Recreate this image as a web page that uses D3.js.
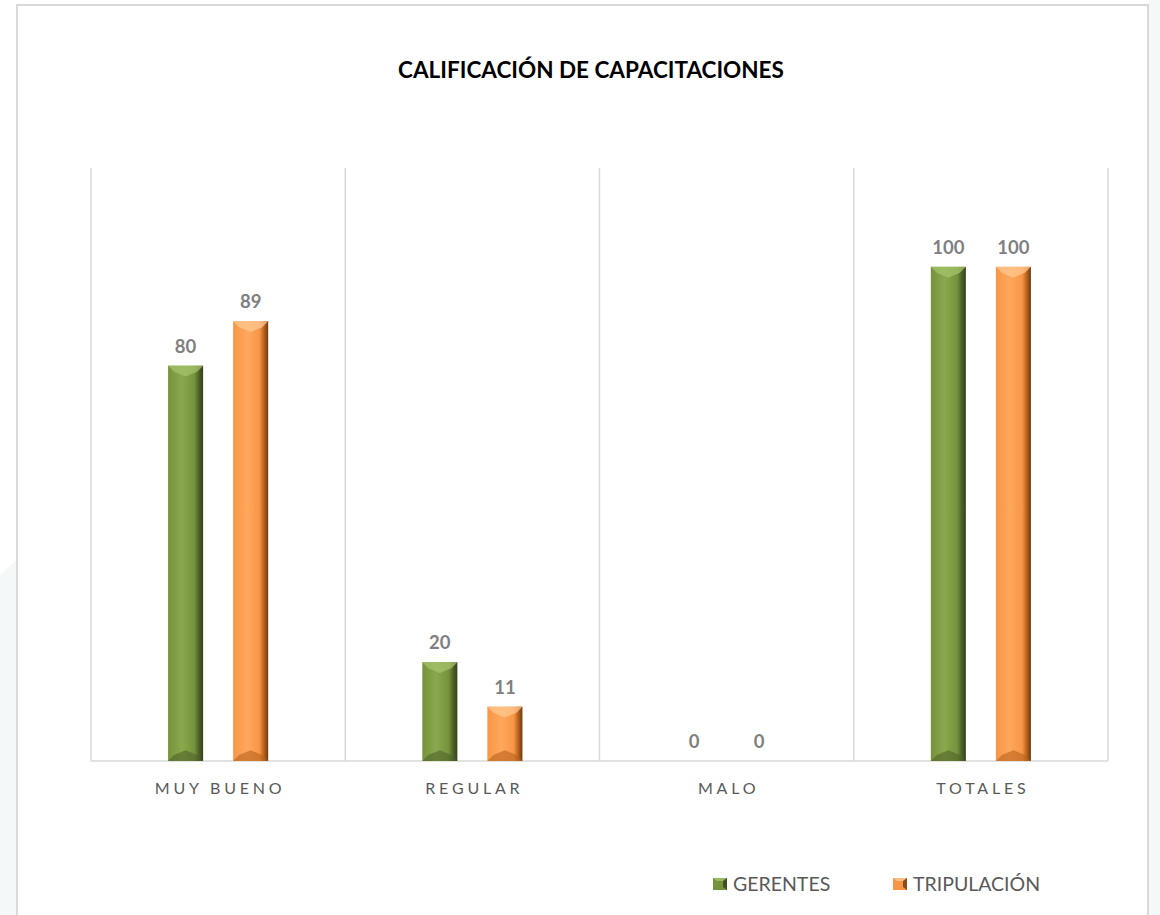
<!DOCTYPE html>
<html>
  <head>
    <meta charset="utf-8">
    <title>Calificación de capacitaciones</title>
    <script src="https://d3js.org/d3.v7.min.js"></script>
    <style>
      body { margin: 0; background: #fff; }
      svg { display: block; font-family: Lato, "Open Sans", sans-serif; }
      .grid line { stroke: #d9d9d9; stroke-width: 1.5; }
      .value { fill: #7f7f7f; font-weight: bold; font-size: 18.5px; text-anchor: middle; }
      .cat { fill: #595959; font-size: 16px; letter-spacing: 3.8px; text-anchor: middle; }
      .legendText { fill: #595959; font-size: 19.5px; }
    </style>
  </head>
  <body>
    <svg id="chart" width="1160" height="915"></svg>
    <script>
      // data
      categories = ["MUY BUENO", "REGULAR", "MALO", "TOTALES"];
      seriesNames = ["GERENTES", "TRIPULACIÓN"];
      gerentes = [80, 20, 0, 100];
      tripulacion = [89, 11, 0, 100];
      yMax = 120;

      colours = {
        "GERENTES": { base: "#76923c", light: "#8aa84c", dark: "#33421a", top: "#a4c36a", bottom: "#4f6228" },
        "TRIPULACIÓN": { base: "#f79646", light: "#ffa75c", dark: "#6e3a10", top: "#ffc890", bottom: "#b8621e" }
      };

      svg = d3.select("#chart");
      margin = { left: 91, right: 1108, top: 168, bottom: 761 };

      // faint page background outside the frame
      svg.append("path")
        .attr("d", "M0,575 L17,560 L17,915 L0,915 Z")
        .style("fill", "#f4f8f8");
      svg.append("rect")
        .attr("x", 1149).attr("y", 0).attr("width", 11).attr("height", 915)
        .style("fill", "#f4f8f8");
      svg.append("rect")
        .attr("x", 17).attr("y", 5).attr("width", 1131).attr("height", 920)
        .style("fill", "#fff").style("stroke", "#d9d9d9").style("stroke-width", 2);

      // title
      svg.append("text")
        .attr("x", 591).attr("y", 78)
        .attr("text-anchor", "middle")
        .style("font-size", "22.5px").style("font-weight", "bold").style("fill", "#000")
        .text("CALIFICACIÓN DE CAPACITACIONES");

      // scales
      x0 = d3.scaleBand().domain(categories).range([margin.left, margin.right]);
      x1 = d3.scaleBand().domain(seriesNames).range([0, x0.bandwidth()])
        .paddingInner(0.4615).paddingOuter(1.1846);
      y = d3.scaleLinear().domain([0, yMax]).range([margin.bottom, margin.top]);

      // gradients
      defs = svg.append("defs");
      seriesNames.forEach(function(s, i) {
        var g = defs.append("linearGradient").attr("id", "grad" + i)
          .attr("x1", "0%").attr("x2", "100%").attr("y1", "0%").attr("y2", "0%");
        g.append("stop").attr("offset", "0%").attr("stop-color", colours[s].base);
        g.append("stop").attr("offset", "40%").attr("stop-color", colours[s].light);
        g.append("stop").attr("offset", "75%").attr("stop-color", colours[s].base);
        g.append("stop").attr("offset", "88%").attr("stop-color", colours[s].bottom);
        g.append("stop").attr("offset", "100%").attr("stop-color", colours[s].dark);
      });

      // vertical category grid + baseline
      grid = svg.append("g").classed("grid", true);
      grid.selectAll(".v")
        .data(categories.concat(["end"]))
        .enter().append("line")
          .attr("x1", function(d, i) { return i < categories.length ? x0(d) : margin.right; })
          .attr("x2", function(d, i) { return i < categories.length ? x0(d) : margin.right; })
          .attr("y1", y(yMax)).attr("y2", y(0));
      grid.append("line")
        .attr("x1", margin.left).attr("x2", margin.right)
        .attr("y1", y(0)).attr("y2", y(0));

      // bars
      rows = [];
      categories.forEach(function(c, i) {
        rows.push({ cat: c, series: "GERENTES", s: 0, value: gerentes[i] });
        rows.push({ cat: c, series: "TRIPULACIÓN", s: 1, value: tripulacion[i] });
      });

      bars = svg.selectAll(".bar")
        .data(rows)
        .enter().append("g")
          .classed("bar", true)
          .attr("transform", function(d) { return "translate(" + (x0(d.cat) + x1(d.series)) + ",0)"; });

      bw = x1.bandwidth();
      bars.filter(function(d) { return d.value > 0; })
        .each(function(d) {
          var g = d3.select(this);
          var top = y(d.value), bot = y(0), bev = 6;
          g.append("rect")
            .attr("x", 0).attr("y", top).attr("width", bw).attr("height", bot - top)
            .style("fill", "url(#grad" + d.s + ")");
          // top bevel (chevron)
          g.append("path")
            .attr("d", "M0," + top + " L" + bw + "," + top + " L" + (bw - bev) + "," + (top + bev) + " L" + (bw / 2) + "," + (top + bev * 1.8) + " L" + bev + "," + (top + bev) + " Z")
            .style("fill", colours[d.series].top).style("opacity", 0.75);
          // bottom bevel
          g.append("path")
            .attr("d", "M0," + bot + " L" + bw + "," + bot + " L" + (bw - bev) + "," + (bot - bev) + " L" + (bw / 2) + "," + (bot - bev * 1.8) + " L" + bev + "," + (bot - bev) + " Z")
            .style("fill", colours[d.series].bottom).style("opacity", 0.6);
        });

      bars.append("text")
        .classed("value", true)
        .attr("x", bw / 2)
        .attr("y", function(d) { return y(d.value) - 13; })
        .text(function(d) { return d.value; });

      // category labels
      svg.selectAll(".cat")
        .data(categories)
        .enter().append("text")
          .classed("cat", true)
          .attr("x", function(d) { return x0(d) + x0.bandwidth() / 2 + 2; })
          .attr("y", 794)
          .text(function(d) { return d; });

      // legend
      legendX = [713, 893];
      legend = svg.selectAll(".legendItem")
        .data(seriesNames)
        .enter().append("g")
          .classed("legendItem", true)
          .attr("transform", function(d, i) { return "translate(" + legendX[i] + ",878)"; });
      legend.append("rect")
        .attr("width", 14).attr("height", 12)
        .style("fill", function(d) { return colours[d].base; });
      legend.append("path")
        .attr("d", "M0,0 L14,0 L10,3 L4,3 Z")
        .style("fill", function(d) { return colours[d].top; }).style("opacity", 0.8);
      legend.append("path")
        .attr("d", "M14,0 L14,12 L10,9 L10,3 Z")
        .style("fill", function(d) { return colours[d].dark; }).style("opacity", 0.8);
      legend.append("text")
        .classed("legendText", true)
        .attr("x", 20).attr("y", 13)
        .text(function(d) { return d; });
    </script>
  </body>
</html>
